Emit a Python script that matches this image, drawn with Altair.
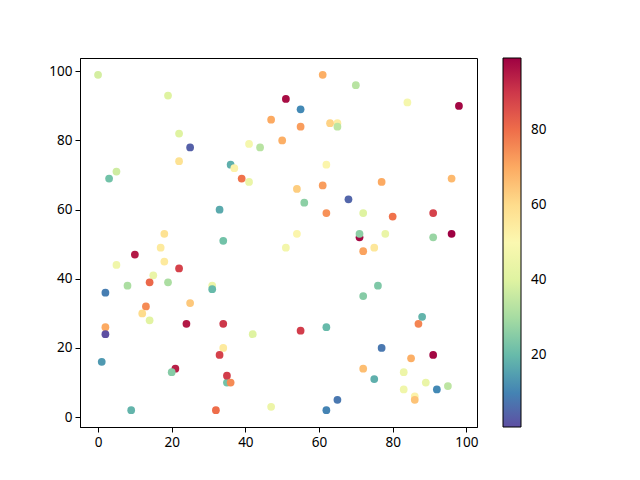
import altair as alt
import pandas as pd

# data values (drawing order matters for overlaps)
xs = [0, 19, 22, 25, 22, 5, 3, 47, 50, 41, 44, 36, 37, 41, 39, 33, 18, 34, 17, 10,
      18, 5, 22, 15, 8, 14, 19, 31, 31, 2, 25, 13, 12, 14, 24, 34, 2, 2, 42, 34,
      33, 1, 21, 20, 35, 35, 36, 9, 32, 47,
      61, 70, 51, 55, 84, 98, 55, 65, 63, 65, 62, 96, 77, 54, 61, 56, 68, 62, 72, 80,
      91, 54, 71, 71, 78, 91, 96, 51, 72, 75, 76, 72, 87, 88, 55, 62, 77, 91, 85, 72,
      75, 83, 89, 95, 92, 83, 86, 86, 65, 62]
ys = [99, 93, 82, 78, 74, 71, 69, 86, 80, 79, 78, 73, 72, 68, 69, 60, 53, 51, 49, 47,
      45, 44, 43, 41, 38, 39, 39, 38, 37, 36, 33, 32, 30, 28, 27, 27, 26, 24, 24, 20,
      18, 16, 14, 13, 10, 12, 10, 2, 2, 3,
      99, 96, 92, 89, 91, 90, 84, 85, 85, 84, 73, 69, 68, 66, 67, 62, 63, 59, 59, 58,
      59, 53, 52, 53, 53, 52, 53, 49, 48, 49, 38, 35, 27, 29, 25, 26, 20, 18, 17, 14,
      11, 13, 10, 9, 8, 8, 6, 5, 5, 2]
cs = [38, 40, 40, 4, 58, 37, 22, 70, 69, 48, 33, 18, 52, 44, 79, 17, 58, 22, 55, 95,
      55, 46, 88, 44, 31, 81, 31, 45, 20, 9, 64, 75, 60, 41, 95, 90, 70, 1, 40, 55,
      88, 14, 94, 25, 22, 89, 75, 19, 80, 45,
      69, 33, 97, 11, 48, 98, 72, 54, 62, 34, 51, 67, 70, 63, 72, 26, 5, 74, 40, 79,
      88, 51, 98, 26, 44, 28, 99, 47, 71, 56, 24, 25, 76, 19, 89, 20, 8, 98, 69, 66,
      18, 45, 44, 34, 11, 46, 52, 65, 8, 10]

x_ticks = [0, 20, 40, 60, 80, 100]
y_ticks = [0, 20, 40, 60, 80, 100]
c_ticks = [20, 40, 60, 80]

df = pd.DataFrame({"x": xs, "y": ys, "c": cs, "order": list(range(len(xs)))})

xr = max(xs) - min(xs)
yr = max(ys) - min(ys)
x_dom = [min(xs) - 0.05 * xr, max(xs) + 0.05 * xr]
y_dom = [min(ys) - 0.05 * yr, max(ys) + 0.05 * yr]

FONT = "Noto Sans"

chart = alt.Chart(df).mark_circle(size=60, opacity=1).encode(
    x=alt.X("x:Q", scale=alt.Scale(domain=x_dom, nice=False, zero=False),
            axis=alt.Axis(values=x_ticks, title=None, grid=False)),
    y=alt.Y("y:Q", scale=alt.Scale(domain=y_dom, nice=False, zero=False),
            axis=alt.Axis(values=y_ticks, title=None, grid=False)),
    color=alt.Color("c:Q",
                    scale=alt.Scale(scheme="spectral", reverse=True,
                                    domain=[min(cs), max(cs)], nice=False, zero=False),
                    legend=alt.Legend(title=None, values=c_ticks, direction="vertical",
                                      gradientLength=369, gradientThickness=18,
                                      gradientStrokeColor="black", gradientStrokeWidth=1,
                                      offset=26, padding=0, labelOffset=10,
                                      labelFontSize=13.5, labelFont=FONT, labelColor="black")),
    order=alt.Order("order:Q"),
).properties(
    width=397, height=369,
    padding={"left": 72, "top": 50, "right": 100, "bottom": 40},
    autosize=alt.AutoSizeParams(type="none"),
).configure_view(
    stroke="black", strokeWidth=1
).configure_axis(
    domainColor="black", tickColor="black", tickSize=5, tickWidth=1,
    labelFont=FONT, labelFontSize=13.5, labelColor="black", labelPadding=3,
)

chart.save("out.html", embed_options={"renderer": "svg", "actions": False})
